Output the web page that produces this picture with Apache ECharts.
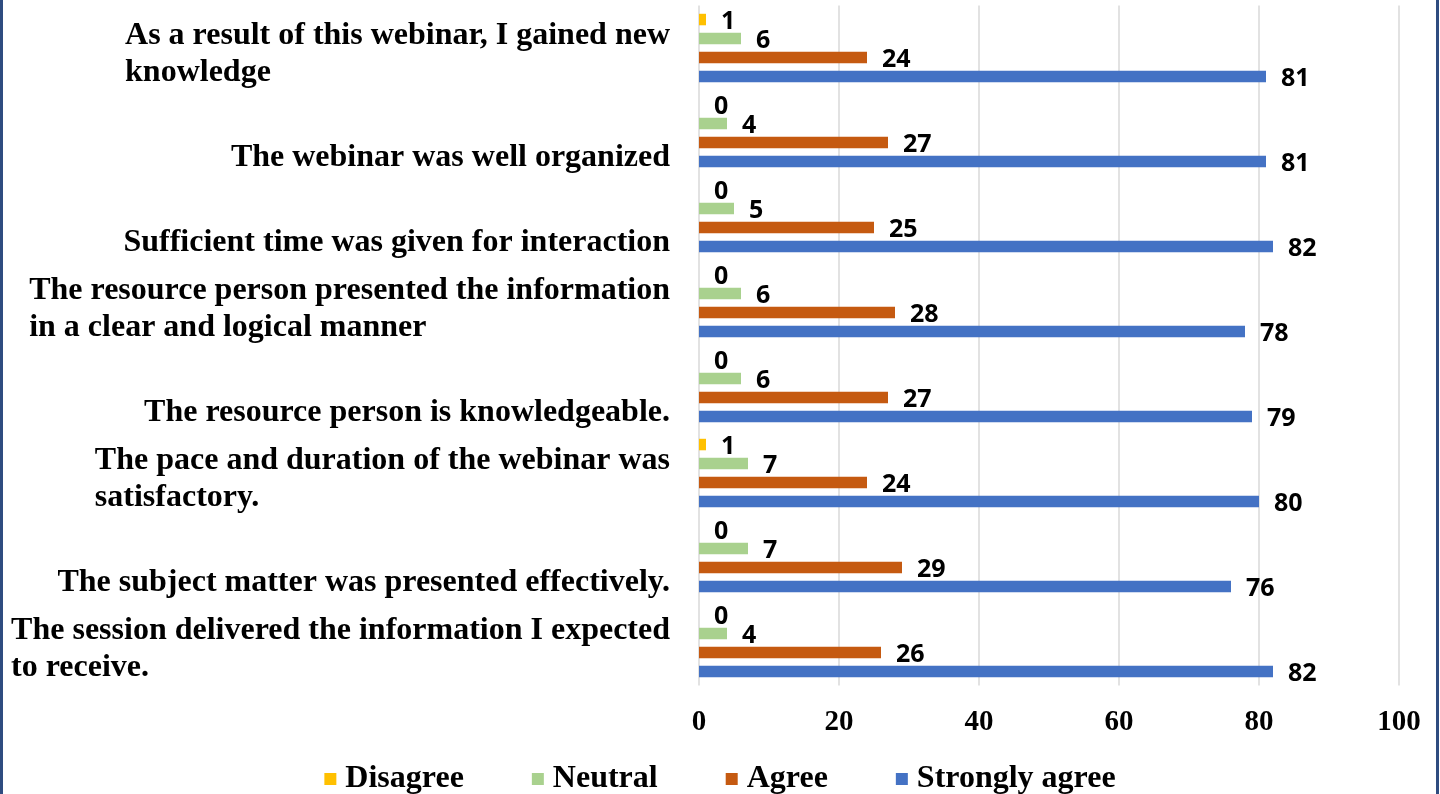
<!DOCTYPE html>
<html>
<head>
<meta charset="utf-8">
<script src="https://cdn.jsdelivr.net/npm/echarts@6/dist/echarts.min.js"></script>
<style>
  html, body { margin: 0; padding: 0; background: #ffffff; }
  #wrap { position: relative; width: 1440px; height: 794px; overflow: hidden; }
  #chart { position: absolute; left: 0; top: 0; width: 1440px; height: 794px; }
  .bl { position: absolute; left: 0; top: 0; width: 2.5px; height: 794px; background: #2F4C80; }
  .br { position: absolute; left: 1436px; top: 0; width: 2.5px; height: 794px; background: #2F4C80; }
</style>
</head>
<body>
<div id="wrap">
  <div id="chart"></div>
  <div class="bl"></div>
  <div class="br"></div>
</div>
<script>
// ---- data (top to bottom as in the reference) ----
const categories = [
  "As a result of this webinar, I gained new\nknowledge",
  "The webinar was well organized",
  "Sufficient time was given for interaction",
  "The resource person presented the information\nin a clear and logical manner",
  "The resource person is knowledgeable.",
  "The pace and duration of the webinar was\nsatisfactory.",
  "The subject matter was presented effectively.",
  "The session delivered the information I expected\nto receive."
];
const seriesNames = ["Disagree", "Neutral", "Agree", "Strongly agree"];
const disagree      = [1, 0, 0, 0, 0, 1, 0, 0];
const neutral       = [6, 4, 5, 6, 6, 7, 7, 4];
const agree         = [24, 27, 25, 28, 27, 24, 29, 26];
const stronglyAgree = [81, 81, 82, 78, 79, 80, 76, 82];
const xTicks = [0, 20, 40, 60, 80, 100];

const colors = ["#FFC000", "#A9D18E", "#C55A11", "#4472C4"];
const values = [disagree, neutral, agree, stronglyAgree];

const serifFont = '"Liberation Serif", "Times New Roman", serif';
const labelFont = '"Open Sans", Lato, sans-serif';

const chart = echarts.init(document.getElementById('chart'), null, { renderer: 'canvas' });

const series = seriesNames.map((name, i) => ({
  name: name,
  type: 'bar',
  data: values[i],
  barWidth: 11.5,
  barGap: '65%',
  itemStyle: { color: colors[i] },
  label: {
    show: true,
    position: 'right',
    distance: 15,
    offset: [0, 2],
    color: '#000',
    fontFamily: labelFont,
    fontWeight: 'bold',
    fontSize: 25
  }
}));

chart.setOption({
  animation: false,
  grid: {
    left: 699, right: 41, top: 5.5, bottom: 108.5,
    containLabel: false,
    outerBoundsMode: 'none'
  },
  legend: {
    data: seriesNames,
    left: 'center',
    top: 758,
    icon: 'rect',
    itemWidth: 12,
    itemHeight: 12,
    itemGap: 68,
    textStyle: {
      fontFamily: serifFont,
      fontWeight: 'bold',
      fontSize: 32,
      color: '#000',
      padding: [0, 0, 0, 4]
    }
  },
  xAxis: {
    type: 'value',
    min: xTicks[0],
    max: xTicks[xTicks.length - 1],
    interval: xTicks[1] - xTicks[0],
    axisLine: { show: false },
    axisTick: { show: false },
    splitLine: { show: true, lineStyle: { color: '#D9D9D9', width: 1.5 } },
    axisLabel: {
      margin: 23,
      fontFamily: serifFont,
      fontWeight: 'bold',
      fontSize: 29,
      color: '#000'
    }
  },
  yAxis: {
    type: 'category',
    data: categories,
    inverse: true,
    axisLine: { show: false },
    axisTick: { show: false },
    splitLine: { show: false },
    axisLabel: {
      interval: 0,
      margin: 29,
      padding: [13, 0, 0, 0],
      formatter: function (v) {
        const lines = v.split('\n');
        if (lines.length === 1) lines.unshift(' ');
        return lines.map(l => '{l|' + l + '}').join('\n');
      },
      rich: {
        l: {
          align: 'left',
          fontFamily: serifFont,
          fontWeight: 'bold',
          fontSize: 32,
          lineHeight: 37,
          color: '#000'
        }
      }
    }
  },
  series: series
});
</script>
</body>
</html>
